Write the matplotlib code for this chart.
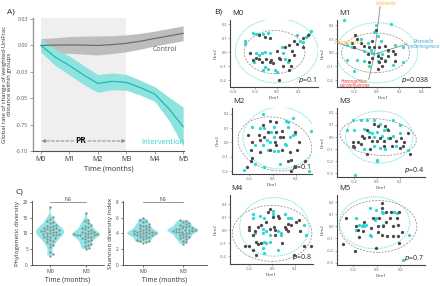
import numpy as np
import matplotlib
matplotlib.use("Agg")
import matplotlib.pyplot as plt
from matplotlib.patches import Ellipse

plt.rcParams['font.family'] = ['Open Sans', 'DejaVu Sans']

W, H = 440, 286
fig = plt.figure(figsize=(W / 100, H / 100), dpi=100)

def rect(l, t, r, b):
    return [l / W, 1 - b / H, (r - l) / W, (b - t) / H]

CYAN = '#2fd6cf'
CYAN_LINE = '#1fb8b8'
CYAN_BAND = '#8fe3df'
GRAY_PT = '#4a4a4a'

# ---------------- Panel A data ----------------
months = [0, 0.5, 1, 1.5, 2, 2.5, 3, 3.5, 4, 4.5, 5]
control_mean = [0.0, 0.0003, 0.0005, 0.0003, 0.0, 0.0008, 0.002, 0.004, 0.0066, 0.009, 0.0115]
control_hw = [0.0065, 0.007, 0.008, 0.0085, 0.009, 0.0085, 0.008, 0.0075, 0.007, 0.007, 0.007]
interv_mean = [0.0, -0.011, -0.019, -0.028, -0.036, -0.034, -0.035, -0.040, -0.046, -0.060, -0.077]
interv_hw = [0.0065, 0.008, 0.009, 0.009, 0.0085, 0.008, 0.0075, 0.007, 0.007, 0.011, 0.0185]
a_xticklabels = ['M0', 'M1', 'M2', 'M3', 'M4', 'M5']
a_yticks = [0.025, 0.0, -0.025, -0.05, -0.075, -0.10]
a_yticklabels = ['0.03', '0.00', '-0.03', '-0.05', '-0.75', '-0.10']

# ---------------- Panel C data ----------------
pd_m0 = [18.4, 15.2, 14.6, 14.0, 13.5, 13.2, 12.8, 12.5, 12.3, 12.0, 11.8, 11.6, 11.5, 11.3,
         11.1, 11.0, 10.8, 10.7, 10.5, 10.4, 10.2, 10.0, 9.9, 9.7, 9.5, 9.4, 9.2, 9.0, 8.8,
         8.5, 8.2, 8.0, 7.6, 7.2, 6.8, 6.3, 5.8, 4.2, 3.6, 3.0]
pd_m3 = [16.6, 14.3, 13.8, 13.2, 12.8, 12.4, 12.0, 11.7, 11.4, 11.1, 10.9, 10.6, 10.4, 10.2,
         10.0, 9.9, 9.8, 9.7, 9.6, 9.5, 9.4, 9.2, 9.0, 8.8, 8.5, 8.2, 7.9, 7.6, 7.2, 6.8,
         6.4, 6.0, 5.5, 5.1]
sh_m0 = [5.9, 5.7, 5.6, 5.4, 5.2, 5.1, 5.0, 4.9, 4.8, 4.7, 4.6, 4.5, 4.4, 4.35, 4.3, 4.25,
         4.2, 4.15, 4.1, 4.05, 4.0, 3.95, 3.9, 3.85, 3.8, 3.75, 3.7, 3.6, 3.5, 3.4, 3.3, 3.2,
         3.1, 3.0, 2.9, 2.85]
sh_m3 = [5.7, 5.6, 5.4, 5.3, 5.2, 5.1, 5.0, 4.9, 4.8, 4.7, 4.65, 4.6, 4.55, 4.5, 4.45, 4.4,
         4.35, 4.3, 4.25, 4.2, 4.15, 4.1, 4.0, 3.9, 3.8, 3.7, 3.6, 3.5, 3.4, 3.3, 3.1, 2.9, 2.7]

# ---------------- Panel B data (PCoA points) ----------------
m0_cyan_x = [-0.22, -0.29, -0.29, -0.19, -0.16, -0.13, -0.08, 0.32, 0.30, 0.27, -0.19, -0.16, -0.14, -0.11,
             -0.06, -0.21, -0.11, -0.13, -0.08, -0.02, 0.0, 0.06, 0.08, 0.10, 0.05, 0.19, 0.21, 0.24]
m0_cyan_y = [0.14, 0.08, 0.06, 0.13, 0.13, 0.13, 0.14, 0.15, 0.13, 0.11, -0.01, -0.02, -0.01, 0.0,
             -0.01, -0.07, -0.11, -0.13, -0.12, -0.13, -0.14, -0.01, -0.05, -0.07, 0.04, 0.12, 0.08, 0.07]
m0_gray_x = [-0.25, -0.22, -0.19, -0.16, -0.14, -0.10, -0.06, -0.05, -0.03, 0.02, 0.03, 0.0, 0.08, 0.11,
             0.14, 0.16, 0.19, 0.24, 0.29, 0.11, 0.13, 0.11, 0.06, 0.02, -0.16, -0.11, -0.06, 0.16, 0.24]
m0_gray_y = [-0.01, -0.06, -0.04, -0.05, -0.07, -0.05, -0.07, -0.06, -0.08, -0.04, -0.05, 0.01, 0.04, 0.05,
             0.01, 0.08, 0.06, 0.10, 0.12, -0.06, -0.10, -0.13, -0.10, -0.20, 0.12, 0.11, 0.10, -0.02, 0.04]

m1_cyan_x = [-0.29, -0.01, 0.13, -0.02, 0.01, -0.14, -0.08, -0.26, -0.22, 0.04, -0.05, -0.11, -0.04, 0.01,
             0.05, 0.10, 0.16, 0.23, -0.26, -0.17, -0.11, 0.01, 0.07, 0.23, 0.14, -0.20, -0.07]
m1_cyan_y = [0.24, 0.20, 0.21, 0.15, 0.12, 0.10, 0.07, 0.06, 0.04, 0.09, 0.02, 0.01, 0.0, 0.0,
             -0.01, 0.01, 0.06, 0.04, -0.05, -0.05, -0.06, -0.06, -0.05, -0.07, -0.09, -0.13, -0.10]
m1_gray_x = [-0.19, -0.17, -0.14, -0.11, -0.07, -0.02, 0.02, 0.07, 0.10, 0.14, 0.16, -0.08, -0.04, 0.01,
             0.04, 0.07, 0.10, -0.07, 0.02, 0.05, -0.20, -0.22, -0.04, -0.01, 0.16, 0.01]
m1_gray_y = [0.13, 0.10, 0.07, 0.05, 0.04, 0.04, 0.04, 0.05, 0.02, 0.01, -0.01, -0.01, -0.04, -0.02,
             -0.04, -0.06, -0.02, -0.07, -0.07, -0.10, 0.04, 0.07, 0.09, 0.17, -0.06, -0.12]

m2_cyan_x = [-0.08, -0.18, -0.11, -0.07, 0.01, -0.01, 0.12, 0.18, 0.13, 0.13, -0.05, -0.02, -0.04, -0.08,
             -0.15, 0.01, 0.05, 0.11, 0.12, 0.15, 0.18, 0.19, 0.33, 0.06, -0.07, -0.15, -0.25, 0.31, 0.01]
m2_cyan_y = [0.20, 0.11, 0.10, 0.10, 0.11, 0.07, 0.15, 0.17, 0.14, 0.11, 0.02, 0.0, -0.05, -0.02,
             -0.02, -0.06, -0.06, -0.01, -0.02, 0.04, 0.05, 0.06, 0.08, -0.15, -0.17, -0.15, -0.19, -0.20, 0.04]
m2_gray_x = [-0.02, -0.08, 0.03, -0.12, -0.11, -0.18, -0.21, -0.19, -0.07, -0.04, 0.03, 0.08, 0.06, 0.02,
             0.03, 0.08, 0.09, 0.19, 0.23, 0.21, 0.15, 0.16, 0.13, 0.19, 0.16, 0.28, -0.18, -0.19, -0.22, -0.11, -0.02]
m2_gray_y = [0.15, 0.12, 0.14, 0.05, 0.02, 0.0, 0.05, -0.05, 0.04, 0.07, 0.07, 0.08, 0.04, 0.0,
             -0.02, -0.05, 0.04, 0.07, 0.0, -0.05, -0.07, -0.12, -0.13, -0.17, -0.20, -0.13, -0.11, -0.13, -0.17, -0.07, -0.05]

m3_cyan_x = [-0.21, -0.14, -0.09, -0.03, 0.03, 0.14, 0.20, -0.26, -0.20, -0.11, -0.07, -0.04, -0.03, 0.0,
             0.04, 0.06, 0.09, 0.10, 0.14, 0.20, -0.03, 0.03, 0.07, 0.17, 0.27, 0.0, 0.0, -0.19, -0.11]
m3_cyan_y = [0.14, 0.14, 0.14, 0.14, 0.11, 0.14, 0.10, 0.06, 0.06, 0.07, 0.04, 0.03, 0.0, 0.04,
             0.01, 0.06, 0.07, -0.01, 0.01, 0.03, -0.07, -0.09, -0.10, -0.07, -0.11, -0.19, -0.20, -0.31, -0.10]
m3_gray_x = [-0.03, 0.01, 0.07, 0.10, -0.09, -0.13, -0.11, -0.07, -0.04, -0.21, -0.21, -0.20, -0.17, -0.14,
             0.0, 0.03, 0.06, 0.11, 0.13, 0.17, 0.21, 0.24, 0.27, 0.20, 0.23, 0.29, -0.09, -0.06, 0.06]
m3_gray_y = [0.11, 0.09, 0.09, 0.06, 0.06, 0.01, -0.01, 0.0, -0.03, -0.04, -0.07, -0.08, -0.04, -0.06,
             -0.03, -0.01, -0.03, -0.01, -0.07, -0.03, -0.01, -0.04, 0.03, -0.09, -0.07, -0.14, -0.14, -0.10, -0.07]

m4_cyan_x = [-0.17, -0.17, -0.11, 0.01, 0.01, 0.11, 0.14, 0.17, -0.07, -0.08, -0.05, -0.08, -0.02, 0.05,
             0.08, 0.08, -0.05, -0.07, -0.02, -0.15, -0.08, -0.07, 0.05, 0.28, 0.30]
m4_cyan_y = [0.125, 0.09, 0.11, 0.15, 0.125, 0.125, 0.09, 0.09, 0.09, 0.01, -0.01, -0.025, -0.04, -0.01,
             -0.025, -0.04, -0.10, -0.09, -0.09, -0.025, -0.14, -0.175, -0.15, 0.04, -0.04]
m4_gray_x = [-0.02, -0.04, 0.01, 0.05, 0.06, -0.05, -0.10, -0.12, -0.20, -0.20, -0.15, -0.17, -0.14, -0.12,
             -0.10, -0.02, 0.02, 0.03, 0.03, 0.11, 0.12, 0.14, 0.17, 0.21, 0.24, 0.25, 0.28, 0.34, 0.19,
             -0.20, -0.24, -0.17, -0.14, 0.14, 0.09]
m4_gray_y = [0.16, 0.14, 0.10, 0.11, 0.09, 0.06, 0.04, 0.025, 0.025, 0.0, -0.01, -0.04, -0.09, -0.11,
             -0.10, 0.01, 0.025, 0.0, -0.04, 0.025, 0.01, 0.05, 0.04, 0.06, 0.075, -0.01, -0.125, -0.125, -0.19,
             -0.125, -0.125, -0.15, -0.19, -0.01, -0.10]

m5_cyan_x = [-0.06, -0.01, 0.04, 0.05, 0.15, 0.17, -0.18, -0.15, -0.13, -0.12, -0.11, -0.09, -0.18, -0.06,
             -0.05, -0.02, -0.01, 0.05, 0.27, 0.22]
m5_cyan_y = [0.15, 0.135, 0.12, 0.11, 0.12, 0.11, 0.07, 0.01, 0.0, 0.01, 0.0, 0.01, -0.03, -0.07,
             -0.08, 0.05, 0.07, 0.01, -0.07, -0.28]
m5_gray_x = [-0.26, 0.04, 0.04, 0.08, 0.12, 0.19, -0.03, 0.02, 0.11, 0.17, 0.08, 0.01, 0.05, 0.14,
             0.18, -0.18, -0.16, -0.12, -0.11, -0.05, 0.01, 0.09, 0.14, 0.18, 0.21, 0.04, -0.19, -0.01, -0.29, -0.15, 0.19]
m5_gray_y = [0.07, 0.19, 0.15, 0.12, 0.12, 0.12, 0.07, 0.07, 0.07, 0.07, 0.04, 0.0, 0.0, 0.0,
             0.01, 0.0, -0.03, -0.04, 0.04, -0.01, -0.05, -0.08, -0.08, -0.08, -0.05, -0.07, -0.20, -0.18, -0.15, -0.09, -0.14]

p_values = ['0.1', '0.038', '0.1', '0.4', '0.8', '0.7']
b_titles = ['M0', 'M1', 'M2', 'M3', 'M4', 'M5']

biplot_taxa = ['Veillonella', 'Streptococcus', 'Prevotella\nmelaninogenica', 'Haemophilus\nparainfluenzae']
biplot_x = [0.03, -0.34, 0.27, -0.07]
biplot_y = [0.34, 0.07, 0.065, -0.195]
biplot_colors = ['#f2b73a', '#f2b73a', '#3aa0dc', '#e53935']

# ---------------- Panel A ----------------
axA = fig.add_axes(rect(33, 18, 184, 151))
axA.axvspan(0, 3, color='#efefef', zorder=0, lw=0)
axA.fill_between(months, np.array(control_mean) - control_hw, np.array(control_mean) + control_hw,
                 color='#bdbdbd', lw=0, zorder=2)
axA.plot(months, control_mean, color='#6e6e6e', lw=0.9, zorder=3)
axA.fill_between(months, np.array(interv_mean) - interv_hw, np.array(interv_mean) + interv_hw,
                 color=CYAN_BAND, lw=0, zorder=2)
axA.plot(months, interv_mean, color=CYAN_LINE, lw=0.9, zorder=3)
axA.set_xlim(-0.28, 5.03)
axA.set_ylim(-0.1, 0.026)
axA.set_xticks(range(6))
axA.set_xticklabels(a_xticklabels, fontsize=5, color='#333333')
axA.set_yticks(a_yticks)
axA.set_yticklabels(a_yticklabels, fontsize=3.8, color='#555555')
for s in ['top', 'right']:
    axA.spines[s].set_visible(False)
axA.spines['left'].set_color('#999999')
axA.spines['bottom'].set_color('#555555')
axA.spines['left'].set_linewidth(1.0)
axA.spines['bottom'].set_linewidth(0.8)
axA.tick_params(length=2, width=0.5, pad=1.5, colors='#777777')
axA.tick_params(axis='x', labelcolor='#333333')
axA.tick_params(axis='y', labelcolor='#555555')
axA.set_xlabel('Time (months)', fontsize=5.3, labelpad=2, color='#333333')
axA.set_ylabel('Global rate of change of weighted-UniFrac\ndistance within groups',
               fontsize=4.3, labelpad=3, color='#333333', linespacing=1.0)
axA.text(4.35, -0.004, 'Control', fontsize=5, color='#555555', ha='center', va='center')
axA.text(4.3, -0.0915, 'Intervention', fontsize=5.5, color=CYAN, ha='center', va='center')
axA.text(1.4, -0.0905, 'PR', fontsize=6, fontweight='bold', ha='center', va='center', color='#111111')
axA.annotate('', xy=(0.02, -0.0905), xytext=(1.15, -0.0905),
             arrowprops=dict(arrowstyle='-|>', linestyle=(0, (3, 2)), color='#888888', lw=0.7,
                             mutation_scale=5, shrinkA=0, shrinkB=0))
axA.annotate('', xy=(2.98, -0.0905), xytext=(1.65, -0.0905),
             arrowprops=dict(arrowstyle='-|>', linestyle=(0, (3, 2)), color='#888888', lw=0.7,
                             mutation_scale=5, shrinkA=0, shrinkB=0))
fig.text(7 / W, 1 - 12 / H, 'A)', fontsize=6, va='center', ha='left', color='#222222')

# ---------------- Panel C ----------------
def beeswarm(vals, xscale, yscale, dpx):
    vals = np.asarray(vals, dtype=float)
    order = np.argsort(vals)
    placed = []
    offs = np.zeros(len(vals))
    for i in order:
        yv = vals[i] * yscale
        k = 0
        while True:
            cands = [0.0] if k == 0 else [k * dpx * 0.5, -k * dpx * 0.5]
            ok_c = None
            for c in cands:
                if all((c - px) ** 2 + (yv - py) ** 2 >= dpx ** 2 for px, py in placed):
                    ok_c = c
                    break
            if ok_c is not None:
                placed.append((ok_c, yv))
                offs[i] = ok_c / xscale
                break
            k += 1
    return offs

def diversity_panel(r, m0, m3, ylim, yticks, ylabel, xlim):
    ax = fig.add_axes(rect(*r))
    ax.set_xlim(*xlim)
    ax.set_ylim(*ylim)
    wpx = r[2] - r[0]
    hpx = r[3] - r[1]
    xscale = wpx / (xlim[1] - xlim[0])
    yscale = hpx / (ylim[1] - ylim[0])
    for pos, vals in [(0, m0), (1, m3)]:
        vp = ax.violinplot([vals], positions=[pos], widths=0.78, showextrema=False, bw_method=0.3)
        for b in vp['bodies']:
            b.set_facecolor('#8ee6e6')
            b.set_edgecolor('none')
            b.set_alpha(1)
        offs = beeswarm(vals, xscale, yscale, 3.0)
        ax.scatter(pos + offs, vals, s=2.8, color='#8c8c8c', lw=0, zorder=3)
    ax.set_xticks([0, 1])
    ax.set_xticklabels(['M0', 'M3'], fontsize=3.8, color='#333333')
    ax.set_yticks(yticks)
    ax.set_yticklabels([str(t) for t in yticks], fontsize=3.3, color='#333333')
    for s in ['top', 'right']:
        ax.spines[s].set_visible(False)
    for s in ['left', 'bottom']:
        ax.spines[s].set_color('#444444')
        ax.spines[s].set_linewidth(0.6)
    ax.tick_params(length=1.5, width=0.5, pad=1.5, colors='#444444')
    ax.set_xlabel('Time (months)', fontsize=4.8, labelpad=2, color='#333333')
    ax.set_ylabel(ylabel, fontsize=4.6, labelpad=2, color='#333333')
    ytop = ylim[1] * 0.985
    ax.plot([0.0, 1.0], [ytop, ytop], color='#888888', lw=0.6, clip_on=False)
    ax.text(0.5, ytop, 'NS', fontsize=3.8, ha='center', va='bottom', color='#333333')
    return ax

diversity_panel((32, 201, 104, 265), pd_m0, pd_m3, (0, 20.3), [0, 5, 10, 15, 20],
                'Phylogenetic diversity', (-0.5, 1.5))
diversity_panel((123, 201, 207, 265), sh_m0, sh_m3, (0, 8.12), [0, 2, 4, 6, 8],
                'Shannon diversity index', (-0.5, 1.6))
fig.text(16 / W, 1 - 192 / H, 'C)', fontsize=6, va='center', ha='left', color='#222222')

# ---------------- Panel B ----------------
fig.text(214 / W, 1 - 12 / H, 'B)', fontsize=6, va='center', ha='left', color='#222222')

b_rects = [(230, 20, 318, 87), (337, 20, 430, 87), (232, 108, 312, 174),
           (337, 108, 425, 177), (230, 195, 313, 264), (337, 195, 425, 265)]
b_xlims = [(-0.43, 0.38), (-0.35, 0.47), (-0.35, 0.34), (-0.35, 0.42), (-0.37, 0.36), (-0.34, 0.41)]
b_ylims = [(-0.25, 0.23), (-0.25, 0.24), (-0.22, 0.24), (-0.33, 0.24), (-0.26, 0.27), (-0.32, 0.26)]
b_xticks = [[-0.4, -0.2, 0.0, 0.2], [-0.2, 0.0, 0.2, 0.4], [-0.2, 0.0, 0.2],
            [-0.2, 0.0, 0.2], [-0.2, 0.0, 0.2], [-0.2, 0.0, 0.2]]
b_yticks = [[-0.2, -0.1, 0.0, 0.1, 0.2], [-0.2, -0.1, 0.0, 0.1, 0.2], [-0.2, -0.1, 0.0, 0.1, 0.2],
            [-0.3, -0.2, -0.1, 0.0, 0.1, 0.2], [-0.2, -0.1, 0.0, 0.1, 0.2], [-0.3, -0.2, -0.1, 0.0, 0.1, 0.2]]
gray_ell = [(-0.02, 0.0, 0.56, 0.31, 0), (-0.01, 0.0, 0.60, 0.29, 0), (0.02, -0.01, 0.64, 0.37, -8),
            (0.01, 0.0, 0.67, 0.30, -5), (0.0, -0.025, 0.70, 0.43, 0), (0.01, 0.0, 0.66, 0.43, 0)]
cyan_ell = [(0.0, 0.01, 0.76, 0.46, 0), (0.0, 0.0, 0.72, 0.44, 0), (0.06, 0.03, 0.63, 0.43, 0),
            (0.02, 0.0, 0.59, 0.43, 0), (0.02, 0.025, 0.61, 0.45, 0), (-0.02, 0.03, 0.60, 0.43, 0)]
pts = [(m0_gray_x, m0_gray_y, m0_cyan_x, m0_cyan_y), (m1_gray_x, m1_gray_y, m1_cyan_x, m1_cyan_y),
       (m2_gray_x, m2_gray_y, m2_cyan_x, m2_cyan_y), (m3_gray_x, m3_gray_y, m3_cyan_x, m3_cyan_y),
       (m4_gray_x, m4_gray_y, m4_cyan_x, m4_cyan_y), (m5_gray_x, m5_gray_y, m5_cyan_x, m5_cyan_y)]

for i in range(6):
    ax = fig.add_axes(rect(*b_rects[i]))
    ax.set_xlim(*b_xlims[i])
    ax.set_ylim(*b_ylims[i])
    gx, gy, cx, cy = pts[i]
    e = gray_ell[i]
    ax.add_patch(Ellipse((e[0], e[1]), e[2], e[3], angle=e[4], fill=False, ls=(0, (2.5, 1.5)),
                         ec='#9a9a9a', lw=0.6))
    e = cyan_ell[i]
    ax.add_patch(Ellipse((e[0], e[1]), e[2], e[3], angle=e[4], fill=False, ls=(0, (1, 1)),
                         ec='#5fdcd8', lw=0.7))
    if i == 1:
        for tx, ty, name, col in zip(biplot_x, biplot_y, biplot_taxa, biplot_colors):
            ax.plot([-0.02, tx], [-0.01, ty], color='#8a8a8a', lw=0.6, clip_on=False, zorder=4)
        lab_pos = [(0.08, 0.36, 'center'), (-0.25, 0.075, 'center'), (0.42, 0.065, 'center'),
                   (-0.20, -0.225, 'center')]
        for (lx, ly, ha), name, col in zip(lab_pos, biplot_taxa, biplot_colors):
            ax.text(lx, ly, name, fontsize=3.3, color=col, style='italic', ha=ha, va='center',
                    linespacing=0.95, zorder=6)
    ax.scatter(cx, cy, s=5.5, color=CYAN, lw=0, zorder=5, clip_on=False)
    ax.scatter(gx, gy, s=5.5, color=GRAY_PT, lw=0, zorder=5, clip_on=False)
    ax.set_xticks(b_xticks[i])
    ax.set_xticklabels(['%.1f' % t for t in b_xticks[i]], fontsize=2.8, color='#555555')
    ax.set_yticks(b_yticks[i])
    ax.set_yticklabels(['%.1f' % t for t in b_yticks[i]], fontsize=2.8, color='#555555')
    for s in ['top', 'right']:
        ax.spines[s].set_visible(False)
    for s in ['left', 'bottom']:
        ax.spines[s].set_color('#444444')
        ax.spines[s].set_linewidth(0.8)
    ax.tick_params(length=1.2, width=0.4, pad=1, colors='#777777')
    ax.tick_params(labelcolor='#555555')
    ax.set_xlabel('Dim1', fontsize=3.2, labelpad=1.5, color='#444444')
    ax.set_ylabel('Dim2', fontsize=3.2, labelpad=2, color='#444444')
    ax.text(0.02, 1.04, b_titles[i], transform=ax.transAxes, fontsize=5.5, color='#222222',
            ha='left', va='bottom')
    ax.text(0.99, 0.03, r'$p$=' + p_values[i], transform=ax.transAxes, fontsize=5, color='#222222',
            ha='right', va='bottom')

fig.savefig('out.png', dpi=100)
